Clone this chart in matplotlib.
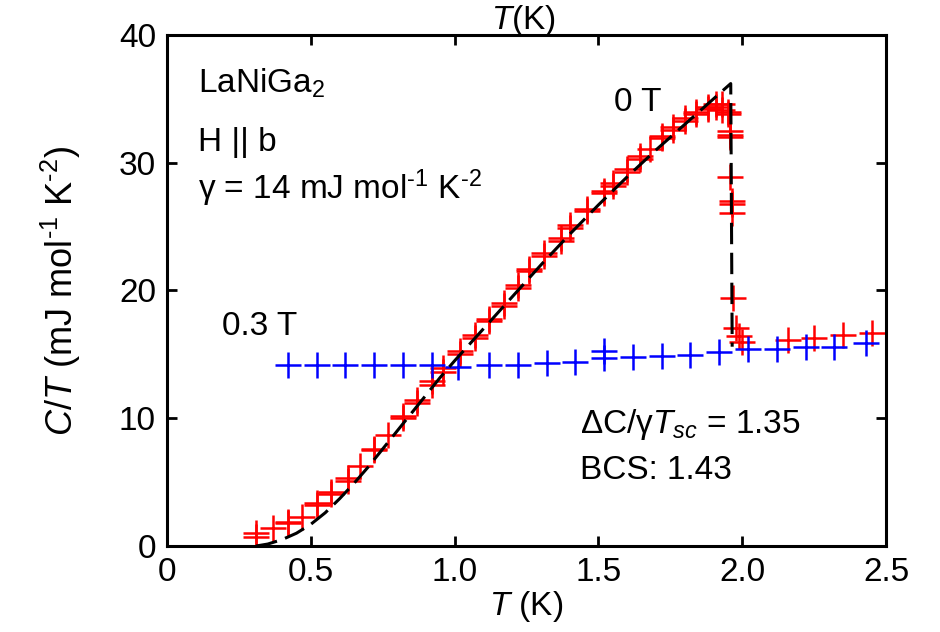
import matplotlib
matplotlib.use("Agg")
import matplotlib.pyplot as plt

plt.rcParams["font.family"] = ["Liberation Sans", "DejaVu Sans"]
plt.rcParams["mathtext.fontset"] = "custom"
plt.rcParams["mathtext.rm"] = "Liberation Sans"
plt.rcParams["mathtext.it"] = "Liberation Sans:italic"

# 0 T specific heat (several runs overlap, so some temperatures repeat)
t_zero = [0.31, 0.31, 0.37, 0.42, 0.42, 0.47, 0.52, 0.52, 0.57, 0.57,
          0.63, 0.63, 0.67, 0.72, 0.72, 0.77, 0.82, 0.82, 0.87, 0.87,
          0.92, 0.92, 0.96, 0.96, 1.02, 1.02, 1.07, 1.07, 1.12, 1.12,
          1.17, 1.17, 1.22, 1.22, 1.26, 1.26, 1.31, 1.31, 1.37, 1.37,
          1.40, 1.40, 1.46, 1.46, 1.52, 1.52, 1.55, 1.55, 1.60, 1.60,
          1.645, 1.645, 1.68, 1.72, 1.72, 1.76, 1.76, 1.80, 1.80, 1.84,
          1.84, 1.88, 1.88, 1.91, 1.91, 1.93, 1.93, 1.95, 1.95, 1.958,
          1.958, 1.958, 1.958, 1.965, 1.965, 1.965, 1.968, 1.98, 1.99, 2.00,
          2.16, 2.25, 2.35, 2.45]
c_zero = [1.0, 0.7, 1.4, 1.8, 1.9, 2.3, 3.2, 3.4, 4.1, 4.2,
          5.1, 5.3, 6.3, 7.5, 7.6, 8.7, 10.0, 10.2, 11.2, 11.4,
          12.6, 12.9, 13.6, 13.9, 15.0, 15.3, 16.3, 16.5, 17.6, 17.8,
          18.8, 19.0, 20.2, 20.4, 21.5, 21.7, 22.7, 22.9, 23.9, 24.1,
          24.9, 25.1, 26.2, 26.4, 27.6, 27.8, 28.2, 28.4, 29.3, 29.5,
          30.3, 30.5, 31.1, 31.9, 32.1, 32.6, 32.8, 33.3, 33.5, 33.8,
          34.0, 34.2, 34.4, 34.4, 34.6, 34.6, 34.1, 34.0, 33.8, 32.5,
          32.2, 32.0, 28.9, 27.0, 26.8, 26.1, 19.4, 17.1, 16.4, 16.0,
          16.1, 16.3, 16.5, 16.7]

# 0.3 T
t_field = [0.42, 0.52, 0.62, 0.72, 0.82, 0.92, 1.01, 1.12, 1.22, 1.32,
           1.42, 1.52, 1.52, 1.62, 1.72, 1.82, 1.92, 2.02, 2.12, 2.22,
           2.32, 2.43]
c_field = [14.2, 14.2, 14.2, 14.2, 14.2, 14.2, 14.0, 14.17, 14.17, 14.33,
           14.4, 15.3, 14.7, 14.8, 14.9, 14.95, 15.2, 15.4, 15.4, 15.6,
           15.6, 15.9]

# BCS curve
t_bcs = [0.31, 0.35, 0.40, 0.45, 0.50, 0.55, 0.60, 0.65, 0.70, 0.75,
         0.80, 0.85, 0.90, 0.95, 1.00, 1.10, 1.20, 1.30, 1.40, 1.50,
         1.60, 1.70, 1.80, 1.90, 1.96, 1.965]
c_bcs = [0.0, 0.15, 0.5, 1.0, 1.7, 2.6, 3.7, 4.9, 6.2, 7.6,
         9.0, 10.4, 11.8, 13.2, 14.5, 17.0, 19.5, 22.0, 24.4, 26.7,
         28.9, 31.0, 33.0, 35.0, 36.2, 15.6]

x_ticks = [0, 0.5, 1.0, 1.5, 2.0, 2.5]
x_ticklabels = ["0", "0.5", "1.0", "1.5", "2.0", "2.5"]
y_ticks = [0, 10, 20, 30, 40]

fig = plt.figure(figsize=(9.4, 6.32), dpi=100)
ax = fig.add_axes([0.1777, 0.1361, 0.7649, 0.8085])

ax.plot(t_bcs, c_bcs, color="black", lw=2.2, dashes=(7, 2.8), zorder=3)
ax.plot(t_zero, c_zero, ls="none", marker="+", ms=18.5, mew=1.8, color="red", zorder=2)
ax.plot(t_field, c_field, ls="none", marker="+", ms=18.5, mew=1.8, color="blue", zorder=2)

ax.set_xlim(0, 2.5)
ax.set_ylim(0, 40)
ax.set_xticks(x_ticks)
ax.set_xticklabels(x_ticklabels)
ax.set_yticks(y_ticks)
ax.tick_params(direction="in", top=True, right=True, length=7, width=2,
               labelsize=24, pad=8)
for s in ax.spines.values():
    s.set_linewidth(2.2)

fs = 24
ax.set_xlabel("$T$ (K)", fontsize=fs, labelpad=1)
ax.set_ylabel("$C/T$ (mJ mol$^{\\text{-}1}$ K$^{\\text{-}2}$)", fontsize=26, labelpad=26)
fig.text(0.557, 0.967, "$T$(K)", fontsize=fs, ha="center", va="center")

ax.text(0.043, 0.905, "LaNiGa$_2$", transform=ax.transAxes, fontsize=fs, va="center")
ax.text(0.043, 0.79, "H || b", transform=ax.transAxes, fontsize=fs, va="center")
ax.text(0.043, 0.70, "γ = 14 mJ mol$^{\\text{-}1}$ K$^{\\text{-}2}$", transform=ax.transAxes,
        fontsize=fs, va="center")
ax.text(0.622, 0.868, "0 T", transform=ax.transAxes, fontsize=fs, va="center")
ax.text(0.077, 0.43, "0.3 T", transform=ax.transAxes, fontsize=fs, va="center")
ax.text(0.574, 0.238, "ΔC/γ$T_{sc}$ = 1.35", transform=ax.transAxes, fontsize=fs, va="center")
ax.text(0.574, 0.148, "BCS: 1.43", transform=ax.transAxes, fontsize=fs, va="center")

fig.savefig("out.png", dpi=100)
